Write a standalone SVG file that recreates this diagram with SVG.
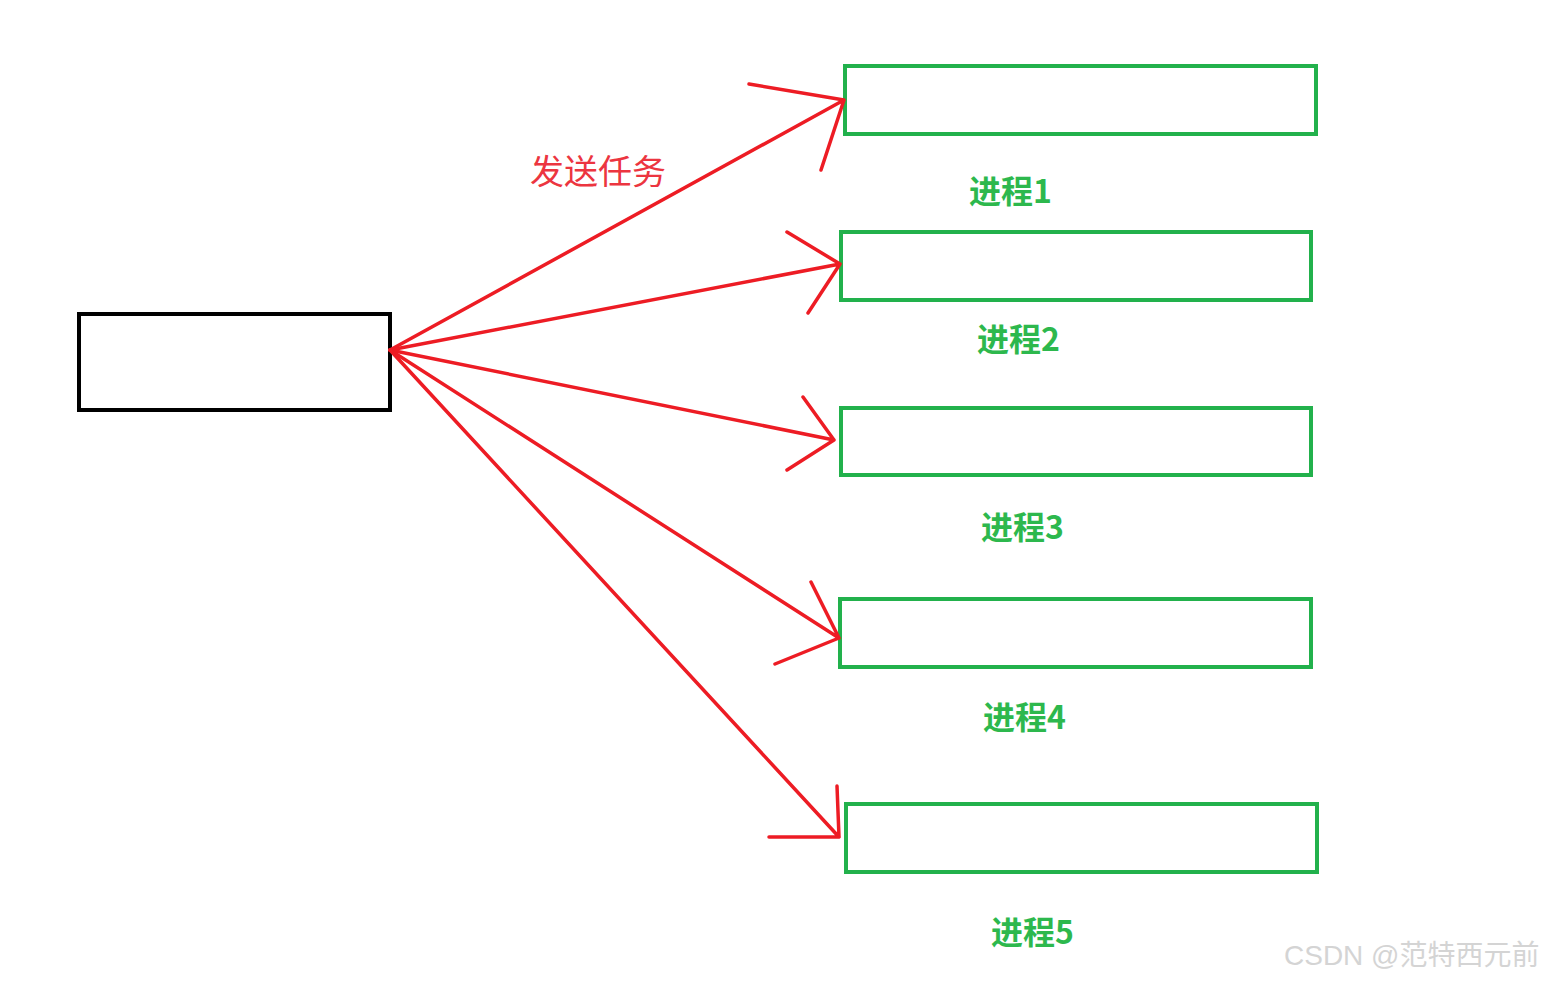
<svg xmlns="http://www.w3.org/2000/svg" width="1547" height="981" viewBox="0 0 1547 981">
<style>
.box{fill:none;stroke:#22b14c;stroke-width:4}
.arr{fill:none;stroke:#ed1c24;stroke-width:3.5;stroke-linecap:round;stroke-linejoin:round}
.lbl{font-family:"Noto Sans CJK SC","Liberation Sans",sans-serif;font-weight:bold;font-size:32px;fill:#2db84d}
</style>
<rect width="1547" height="981" fill="#ffffff"/>
<g id="source"><rect x="79" y="314" width="311" height="96" fill="none" stroke="#000" stroke-width="4"/></g>
<g id="p1"><rect class="box" x="845" y="66" width="471" height="68"/><text class="lbl" x="969" y="203">进程1</text></g>
<g id="p2"><rect class="box" x="841" y="232" width="470" height="68"/><text class="lbl" x="977" y="351">进程2</text></g>
<g id="p3"><rect class="box" x="841" y="408" width="470" height="67"/><text class="lbl" x="981" y="539">进程3</text></g>
<g id="p4"><rect class="box" x="840" y="599" width="471" height="68"/><text class="lbl" x="983" y="729">进程4</text></g>
<g id="p5"><rect class="box" x="846" y="804" width="471" height="68"/><text class="lbl" x="991" y="944">进程5</text></g>
<g id="connectors">
<path class="arr" d="M390,350 L844,100 M749,84 L844,100 L821,170"/>
<path class="arr" d="M390,350 L840,264 M787,232 L840,264 L808,313"/>
<path class="arr" d="M390,350 L834,440 M803,397 L834,440 L787,470"/>
<path class="arr" d="M390,350 L839,638 M811,582 L839,638 L775,664"/>
<path class="arr" d="M390,350 L839,837 M837,786 L839,837 L769,837"/>
<text x="530" y="184" font-family="Noto Sans CJK SC,Liberation Sans,sans-serif" font-size="34" fill="#ec3540">发送任务</text>
</g>
<text x="1284" y="965" font-family="Liberation Sans,Noto Sans CJK SC,sans-serif" font-size="28" fill="#d4d4d4">CSDN @范特西元前</text>
</svg>
